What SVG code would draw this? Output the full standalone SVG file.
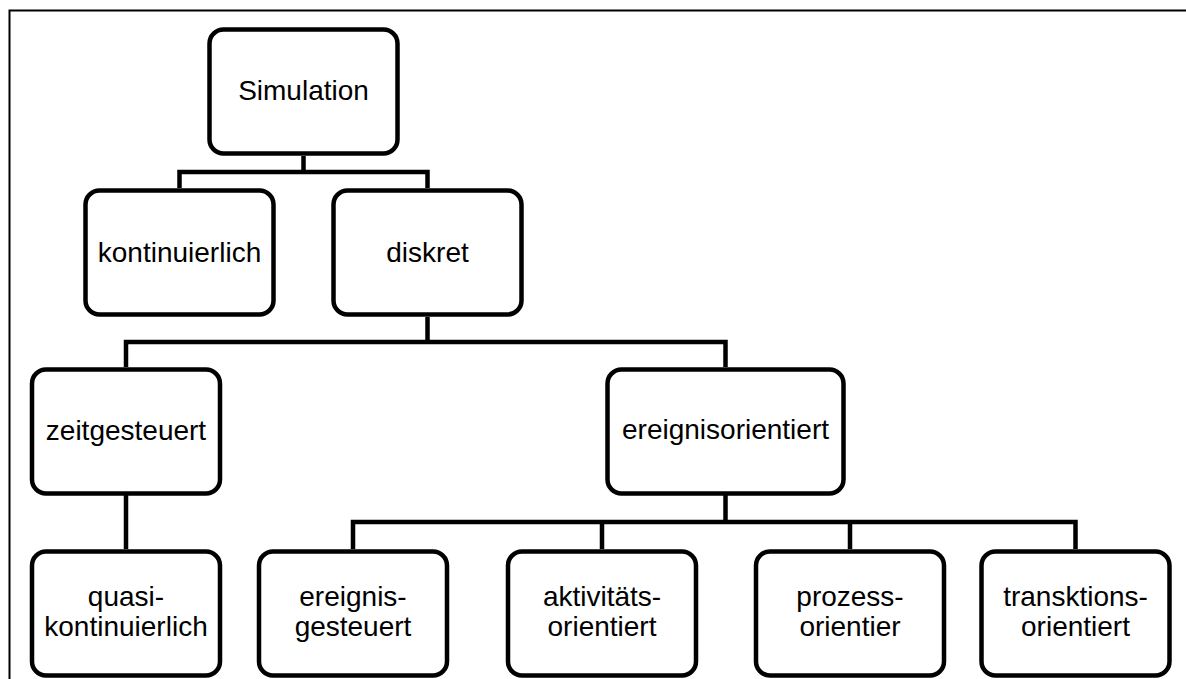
<svg xmlns="http://www.w3.org/2000/svg" width="1186" height="679" viewBox="0 0 1186 679">
  <style>
    .box { fill: #ffffff; stroke: #000000; stroke-width: 4.5; }
    .lbl { font-family: "Liberation Sans", Arial, sans-serif; font-size: 28px; fill: #000000; text-anchor: middle; }
    .conn { fill: none; stroke: #000000; stroke-width: 4.5; stroke-linejoin: miter; }
    .frame { fill: none; stroke: #000000; stroke-width: 2; }
  </style>
  <rect width="1186" height="679" fill="#ffffff"/>

  <!-- outer frame: top and left edges -->
  <path class="frame" d="M 9.5 679 L 9.5 10.5 L 1186 10.5"/>

  <!-- connectors -->
  <g id="connectors">
    <path class="conn" d="M 303.5 156 L 303.5 172 M 179.5 188 L 179.5 172 L 427.5 172 L 427.5 188"/>
    <path class="conn" d="M 427.5 317 L 427.5 342 M 126 367 L 126 342 L 725.5 342 L 725.5 367"/>
    <path class="conn" d="M 126 495 L 126 549"/>
    <path class="conn" d="M 725.5 495 L 725.5 522 M 353 549 L 353 522 L 1075.5 522 L 1075.5 549 M 602 522 L 602 549 M 850 522 L 850 549"/>
  </g>

  <!-- level 0 -->
  <g id="node-simulation">
    <rect class="box" x="209.5" y="29.5" width="188" height="124" rx="14"/>
    <text class="lbl" x="303.5" y="100">Simulation</text>
  </g>

  <!-- level 1 -->
  <g id="node-kontinuierlich">
    <rect class="box" x="85.5" y="190.5" width="188" height="124" rx="14"/>
    <text class="lbl" x="179.5" y="262">kontinuierlich</text>
  </g>
  <g id="node-diskret">
    <rect class="box" x="333.5" y="190.5" width="188" height="124" rx="14"/>
    <text class="lbl" x="427.5" y="262">diskret</text>
  </g>

  <!-- level 2 -->
  <g id="node-zeitgesteuert">
    <rect class="box" x="32" y="369.5" width="188" height="124" rx="14"/>
    <text class="lbl" x="126" y="440">zeitgesteuert</text>
  </g>
  <g id="node-ereignisorientiert">
    <rect class="box" x="607.5" y="369.5" width="236" height="124" rx="14"/>
    <text class="lbl" x="725.5" y="439">ereignisorientiert</text>
  </g>

  <!-- level 3 -->
  <g id="node-quasikontinuierlich">
    <rect class="box" x="32" y="551.5" width="188" height="124" rx="14"/>
    <text class="lbl" x="126" y="606">quasi-</text>
    <text class="lbl" x="126" y="636">kontinuierlich</text>
  </g>
  <g id="node-ereignisgesteuert">
    <rect class="box" x="259" y="551.5" width="188" height="124" rx="14"/>
    <text class="lbl" x="353" y="606">ereignis-</text>
    <text class="lbl" x="353" y="636">gesteuert</text>
  </g>
  <g id="node-aktivitaetsorientiert">
    <rect class="box" x="508" y="551.5" width="188" height="124" rx="14"/>
    <text class="lbl" x="602" y="606">aktivitäts-</text>
    <text class="lbl" x="602" y="636">orientiert</text>
  </g>
  <g id="node-prozessorientiert">
    <rect class="box" x="756" y="551.5" width="188" height="124" rx="14"/>
    <text class="lbl" x="850" y="606">prozess-</text>
    <text class="lbl" x="850" y="636">orientier</text>
  </g>
  <g id="node-transaktionsorientiert">
    <rect class="box" x="981.5" y="551.5" width="188" height="124" rx="14"/>
    <text class="lbl" x="1075.5" y="606">transktions-</text>
    <text class="lbl" x="1075.5" y="636">orientiert</text>
  </g>
</svg>
